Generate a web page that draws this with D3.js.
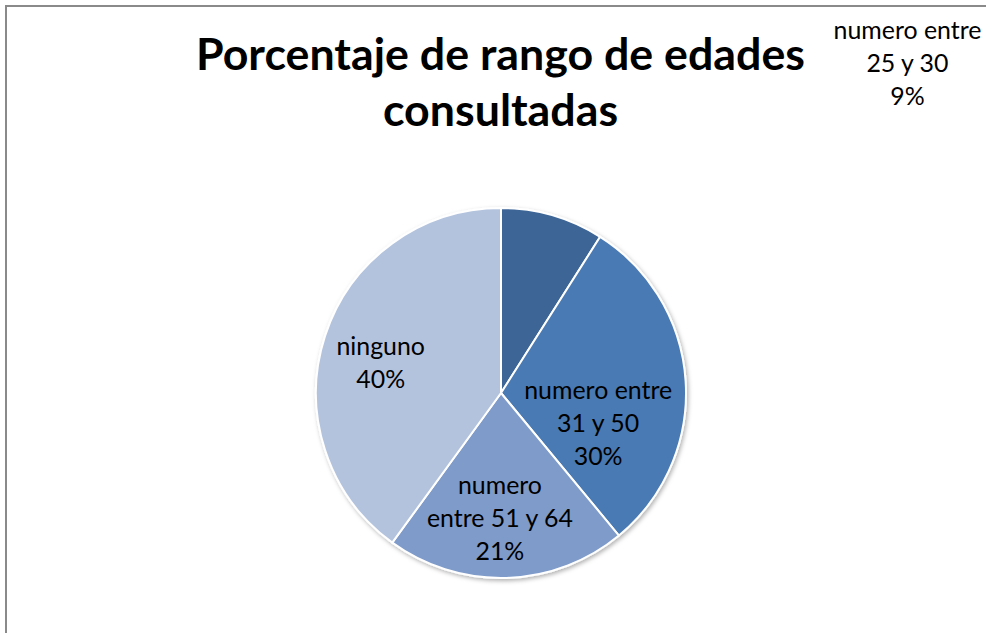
<!DOCTYPE html>
<html>
<head>
<meta charset="utf-8">
<script src="https://cdn.jsdelivr.net/npm/d3@7"></script>
<style>
  html, body { margin: 0; padding: 0; background: #fff; }
  svg { display: block; }
</style>
</head>
<body>
<svg id="chart" width="986" height="633"></svg>
<script>
// ---- data ----
const categories = ["numero entre 25 y 30", "numero entre 31 y 50", "numero entre 51 y 64", "ninguno"];
const values = [9, 30, 21, 40];
const labelLines = [
  ["numero entre", "25 y 30", "9%"],
  ["numero entre", "31 y 50", "30%"],
  ["numero", "entre 51 y 64", "21%"],
  ["ninguno", "40%"]
];
const colors = ["#3C6596", "#4A7AB3", "#7F9BCA", "#B3C3DE"];
const titleLines = ["Porcentaje de rango de edades", "consultadas"];

// ---- layout ----
const W = 986, H = 633;
const cx = 501, cy = 393, R = 185;
const FONT = "Lato, 'Open Sans', sans-serif";
// label placement: polar position (degrees clockwise from top, radius) of label block centre
const labelPolar = [
  { a: 51, r: 523 },
  { a: 107.7, r: 102 },
  { a: 180.5, r: 126 },
  { a: 284, r: 124 }
];

const svg = d3.select("#chart");

// frame
svg.append("rect")
  .attr("x", 6).attr("y", 6)
  .attr("width", W + 20).attr("height", H + 20)
  .attr("fill", "#fff")
  .attr("stroke", "#8a8a8a").attr("stroke-width", 2);

const defs = svg.append("defs");
const f = defs.append("filter").attr("id", "shadow")
  .attr("x", "-20%").attr("y", "-20%").attr("width", "140%").attr("height", "140%");
f.append("feDropShadow").attr("dx", 1.5).attr("dy", 2).attr("stdDeviation", 2.2)
  .attr("flood-color", "#000").attr("flood-opacity", 0.3);

// fit a font size so a text matches a target width
function fitSize(text, weight, target, base) {
  const t = svg.append("text").attr("font-family", FONT).attr("font-weight", weight)
    .attr("font-size", base).text(text);
  const w = t.node().getComputedTextLength();
  t.remove();
  return base * target / w;
}

// title
const titleSize = fitSize(titleLines[0], "bold", 609, 40);
const title = svg.append("text")
  .attr("font-family", FONT).attr("font-weight", "bold")
  .attr("font-size", titleSize).attr("text-anchor", "middle").attr("fill", "#000");
title.selectAll("tspan").data(titleLines).join("tspan")
  .attr("x", 500.5).attr("y", (d, i) => 70 + i * 56).text(d => d);

// pie
const pie = d3.pie().sort(null).value(d => d)(values);
const arc = d3.arc().innerRadius(0).outerRadius(R);
const g = svg.append("g").attr("transform", `translate(${cx},${cy})`);
g.append("g").attr("filter", "url(#shadow)")
  .selectAll("path").data(pie).join("path")
  .attr("d", arc)
  .attr("fill", (d, i) => colors[i])
  .attr("stroke", "#fff").attr("stroke-width", 2).attr("stroke-linejoin", "round");

// labels
const labelSize = fitSize("numero entre", "normal", 148, 24);
const lineH = 33;
pie.forEach((d, i) => {
  const p = labelPolar[i];
  const ang = p.a * Math.PI / 180;
  const x = Math.sin(ang) * p.r;
  const y = -Math.cos(ang) * p.r;
  const lines = labelLines[i];
  const n = lines.length;
  const t = g.append("text")
    .attr("font-family", FONT).attr("font-size", labelSize)
    .attr("text-anchor", "middle").attr("fill", "#000");
  t.selectAll("tspan").data(lines).join("tspan")
    .attr("x", x)
    .attr("y", (s, k) => y + (k - (n - 1) / 2) * lineH + labelSize * 0.33)
    .text(s => s);
});
</script>
</body>
</html>
